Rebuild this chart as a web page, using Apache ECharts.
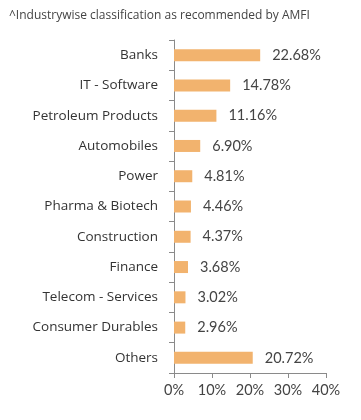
<!DOCTYPE html>
<html><head><meta charset="utf-8">
<script src="https://cdn.jsdelivr.net/npm/echarts@6/dist/echarts.min.js"></script>
<style>html,body{margin:0;padding:0;background:#fff}#c{width:361px;height:420px}</style>
</head><body><div id="c"></div>
<script>
const categories = ["Banks","IT - Software","Petroleum Products","Automobiles","Power","Pharma & Biotech","Construction","Finance","Telecom - Services","Consumer Durables","Others"];
const values = [22.68,14.78,11.16,6.90,4.81,4.46,4.37,3.68,3.02,2.96,20.72];
const xTicks = [0,10,20,30,40];
const titleText = "^Industrywise classification as recommended by AMFI";

const chart = echarts.init(document.getElementById('c'), null, {renderer:'canvas'});
chart.setOption({
  animation:false,
  title:{text:titleText,left:4,top:5,textStyle:{fontFamily:'Open Sans',fontSize:12,fontWeight:'normal',color:'#444'}},
  grid:{left:174,right:35,top:40,bottom:47},
  xAxis:{type:'value',min:xTicks[0],max:xTicks[xTicks.length-1],interval:10,
    splitLine:{show:false},
    axisLine:{show:true,lineStyle:{color:'#8a8a8a',width:1}},
    axisTick:{show:true,length:5,lineStyle:{color:'#8a8a8a'}},
    axisLabel:{formatter:'{value}%',fontFamily:'Lato',fontSize:14.5,color:'#444',margin:10}},
  yAxis:{type:'category',inverse:true,data:categories,
    axisLine:{lineStyle:{color:'#8a8a8a',width:1}},
    axisTick:{show:true,length:5,lineStyle:{color:'#8a8a8a'}},
    axisLabel:{fontFamily:'Open Sans',fontSize:13.5,color:'#333',margin:16}},
  series:[{type:'bar',data:values,barWidth:12,itemStyle:{color:'#F2B36E'},
    label:{show:true,position:'right',distance:12,formatter:p=>p.value.toFixed(2)+'%',fontFamily:'Lato',fontSize:14.5,color:'#444'}}]
});
</script></body></html>
